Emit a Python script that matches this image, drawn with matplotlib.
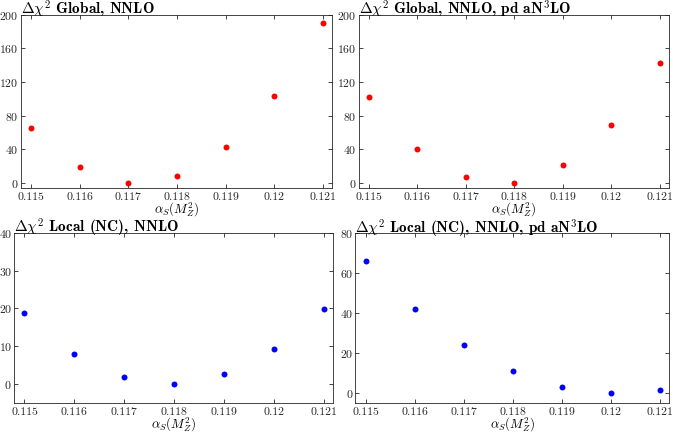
import matplotlib
matplotlib.use('Agg')
import matplotlib.pyplot as plt
from matplotlib.ticker import FuncFormatter

plt.rcParams['font.family'] = 'serif'
plt.rcParams['font.serif'] = ['cmr10']
plt.rcParams['mathtext.fontset'] = 'cm'
plt.rcParams['axes.formatter.use_mathtext'] = True
plt.rcParams['axes.unicode_minus'] = False

alphas = [0.115, 0.116, 0.117, 0.118, 0.119, 0.120, 0.121]

global_nnlo = [65, 18.7, 0, 7.8, 42.5, 103, 190]
global_n3lo = [101.6, 39.5, 6.3, 0, 20.6, 68.3, 143]
local_nnlo = [18.9, 8.0, 1.8, 0, 2.7, 9.4, 19.8]
local_n3lo = [66.2, 42.2, 24.1, 10.7, 2.8, 0, 1.4]

panels = [
    (global_nnlo, r'$\Delta\chi^2$ Global, NNLO', 'red',
     [0.0308, 0.5658, 0.4621, 0.3996], (-6.5, 200), [0, 40, 80, 120, 160, 200]),
    (global_n3lo, r'$\Delta\chi^2$ Global, NNLO, pd aN$^3$LO', 'red',
     [0.533, 0.5658, 0.4605, 0.3996], (-6.5, 200), [0, 40, 80, 120, 160, 200]),
    (local_nnlo, r'$\Delta\chi^2$ Local (NC), NNLO', 'blue',
     [0.0208, 0.069, 0.474, 0.3936], (-5, 40), [0, 10, 20, 30, 40]),
    (local_n3lo, r'$\Delta\chi^2$ Local (NC), NNLO, pd aN$^3$LO', 'blue',
     [0.528, 0.069, 0.4655, 0.392], (-5.3, 80), [0, 20, 40, 60, 80]),
]

fig = plt.figure(figsize=(6.73, 4.33), dpi=100)

for vals, title, col, pos, ylim, yt in panels:
    ax = fig.add_axes(pos)
    ax.plot(alphas, vals, 'o', color=col, markersize=4.3, markeredgewidth=0)
    ax.set_xlim(0.11479, 0.12118)
    ax.set_ylim(*ylim)
    ax.set_yticks(yt)
    ax.set_xticks(alphas)
    ax.xaxis.set_major_formatter(FuncFormatter(lambda v, p: '%g' % round(v, 3)))
    ax.tick_params(direction='in', top=True, right=True, length=3, width=0.6,
                   labelsize=8.5, colors='#262626')
    ax.tick_params(axis='y', pad=1.5)
    ax.tick_params(axis='x', pad=3)
    for s in ax.spines.values():
        s.set_linewidth(0.6)
        s.set_color('#262626')
    ax.set_xlabel(r'$\alpha_S(M_Z^2)$', fontsize=9.3, labelpad=-0.8)
    ax.set_title(title, loc='left', fontsize=11, pad=0, fontfamily='cmb10')

fig.savefig('out.png', dpi=100)
